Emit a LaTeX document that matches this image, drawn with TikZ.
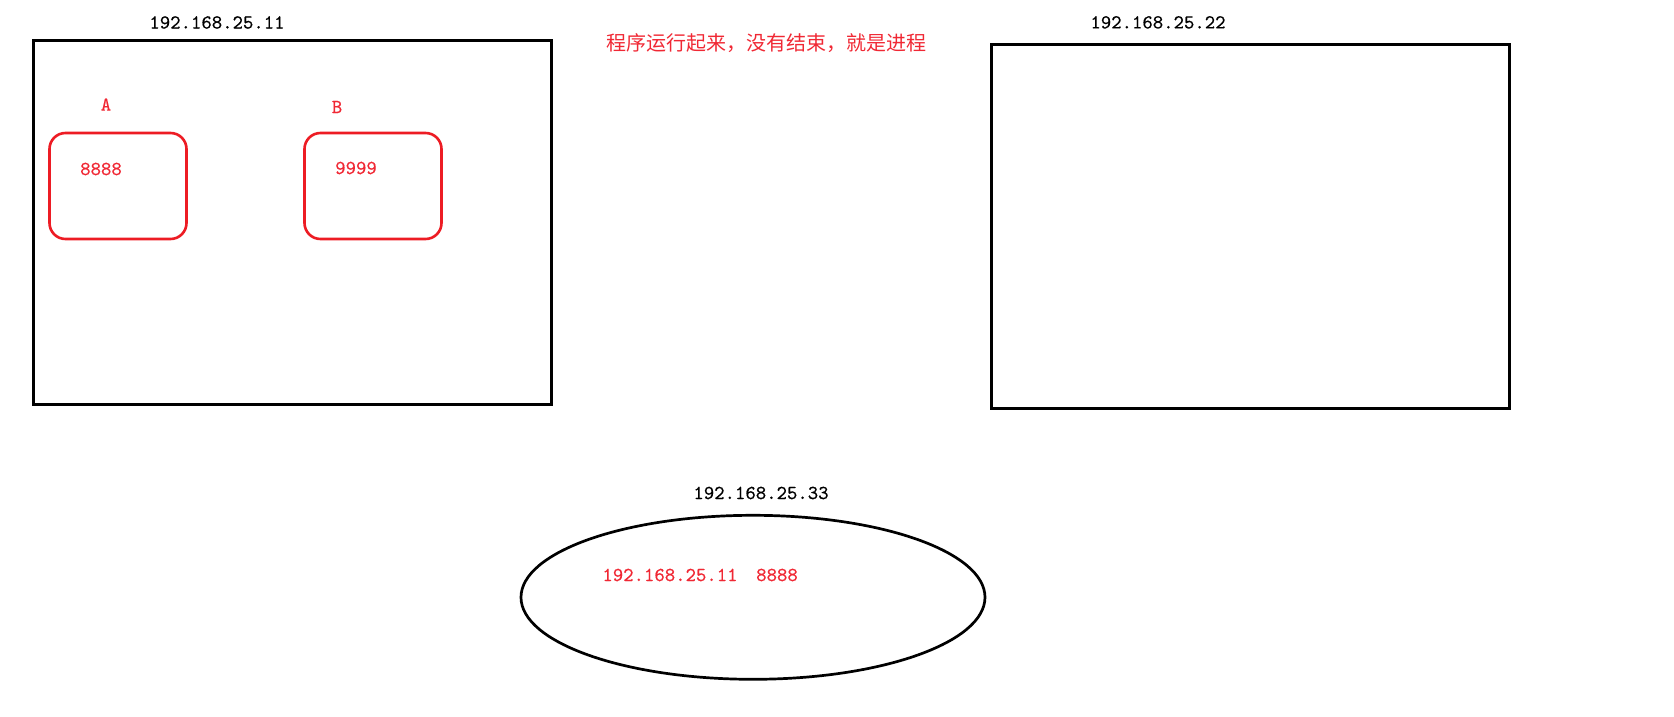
\documentclass[tikz,border=0pt]{standalone}
\usepackage{fontspec}
\newfontfamily\cjk{Noto Sans CJK SC}
\newfontfamily\ipfont{lmmono10-regular}[Extension=.otf, FakeBold=0.5]
\definecolor{redline}{RGB}{237,28,36}
\definecolor{redtext}{RGB}{240,40,52}
\usetikzlibrary{shapes.geometric}
\tikzset{
  host/.style={draw=black, line width=3pt, minimum width=518pt, minimum height=364pt, inner sep=0pt},
  proc/.style={draw=redline, line width=2.6pt, rounded corners=16pt, minimum width=137pt, minimum height=106pt, inner sep=0pt},
  iplabel/.style={font=\ipfont\fontsize{19.8}{20}\selectfont, text=black, inner sep=0pt},
  redlabel/.style={font=\ipfont\fontsize{19.8}{20}\selectfont, text=redtext, inner sep=0pt},
  cjklabel/.style={font=\cjk\fontsize{20}{20}\selectfont, text=redtext, inner sep=0pt},
  server/.style={draw=black, line width=2.7pt, ellipse, minimum width=464pt, minimum height=164pt, inner sep=0pt}
}
\begin{document}
\begin{tikzpicture}[x=1pt,y=-1pt]
\useasboundingbox (0,0) rectangle (1674,717);
% host 1
\node[host] (host1) at (292,222.7) {};
\node[iplabel] (ip1) at (217,22.5) {192.168.25.11};
\node[redlabel] (la) at (106,104.5) {A};
\node[redlabel] (lb) at (337,107) {B};
\node[proc] (pa) at (118,186) {};
\node[proc] (pb) at (373,186) {};
\node[redlabel] (pa8) at (101,169) {8888};
\node[redlabel] (pb9) at (356,168) {9999};
% note
\node[cjklabel] (note) at (766,43.5) {程序运行起来，没有结束，就是进程};
% host 2
\node[iplabel] (ip2) at (1158,22.4) {192.168.25.22};
\node[host] (host2) at (1250,226.9) {};
% host 3
\node[iplabel] (ip3) at (761,493) {192.168.25.33};
\node[server] (host3) at (753,597.3) {};
\node[redlabel] (reg1) at (670,575) {192.168.25.11};
\node[redlabel] (reg2) at (777,575) {8888};
\end{tikzpicture}
\end{document}
